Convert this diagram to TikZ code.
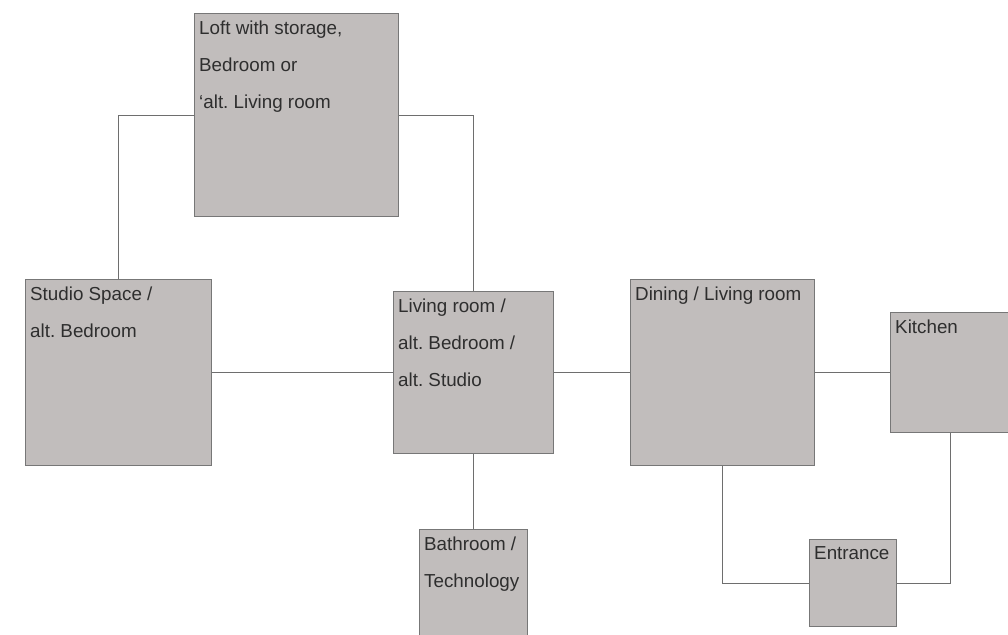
\documentclass[tikz,border=0pt]{standalone}
\usepackage{fontspec}
\setmainfont{Liberation Sans}
\frenchspacing
\definecolor{boxfill}{HTML}{C1BDBC}
\definecolor{boxborder}{HTML}{777777}
\definecolor{linegray}{HTML}{6E6E6E}
\definecolor{textgray}{HTML}{2E2E2E}
\tikzset{
  room/.style={draw=boxborder, fill=boxfill, line width=1.2pt, inner sep=0pt, anchor=north west},
  roomtext/.style={anchor=north west, inner sep=0pt, align=left, text=textgray,
    font=\frenchspacing\fontsize{18.8pt}{37.3pt}\selectfont},
  link/.style={draw=linegray, line width=1pt}
}
\begin{document}
\begin{tikzpicture}[x=1pt,y=-1pt]
\useasboundingbox (0,0) rectangle (1008,634);
\clip (0,0) rectangle (1008,634);
% rooms
\node[room, minimum width=204pt, minimum height=203pt] (loft) at (194,13) {};
\node[room, minimum width=186pt, minimum height=186pt] (studio) at (25,279) {};
\node[room, minimum width=160pt, minimum height=162pt] (living) at (393,291) {};
\node[room, minimum width=184pt, minimum height=186pt] (dining) at (630,279) {};
\node[room, minimum width=120pt, minimum height=120pt] (kitchen) at (890,312) {};
\node[room, minimum width=87pt, minimum height=87pt] (entrance) at (809,539) {};
\node[room, minimum width=108pt, minimum height=115pt] (bath) at (419,529) {};
% texts
\node[roomtext] (loft-t) at ([xshift=5pt,yshift=-7.4pt]loft.north west) {Loft with storage,\\Bedroom or\\‘alt. Living room};
\node[roomtext] (studio-t) at ([xshift=5pt,yshift=-7.8pt]studio.north west) {Studio Space /\\alt. Bedroom};
\node[roomtext] (living-t) at ([xshift=5pt,yshift=-7.4pt]living.north west) {Living room /\\alt. Bedroom /\\alt. Studio};
\node[roomtext] (dining-t) at ([xshift=5pt,yshift=-7.4pt]dining.north west) {Dining / Living room};
\node[roomtext] (kitchen-t) at ([xshift=5pt,yshift=-7.4pt]kitchen.north west) {Kitchen};
\node[roomtext] (entrance-t) at ([xshift=5pt,yshift=-7.4pt]entrance.north west) {Entrance};
\node[roomtext] (bath-t) at ([xshift=5pt,yshift=-7.4pt]bath.north west) {Bathroom /\\Technology};
% connectors
\draw[link] (loft.west) -| (studio.north);
\draw[link] (loft.east) -| (living.north);
\draw[link] (studio.east) -- (studio.east -| living.west);
\draw[link] (living.east) -- (living.east -| dining.west);
\draw[link] (dining.east) -- (dining.east -| kitchen.west);
\draw[link] (living.south) -- (bath.north);
\draw[link] (dining.south) |- (entrance.west);
\draw[link] (entrance.east) -| (kitchen.south);
\end{tikzpicture}
\end{document}
